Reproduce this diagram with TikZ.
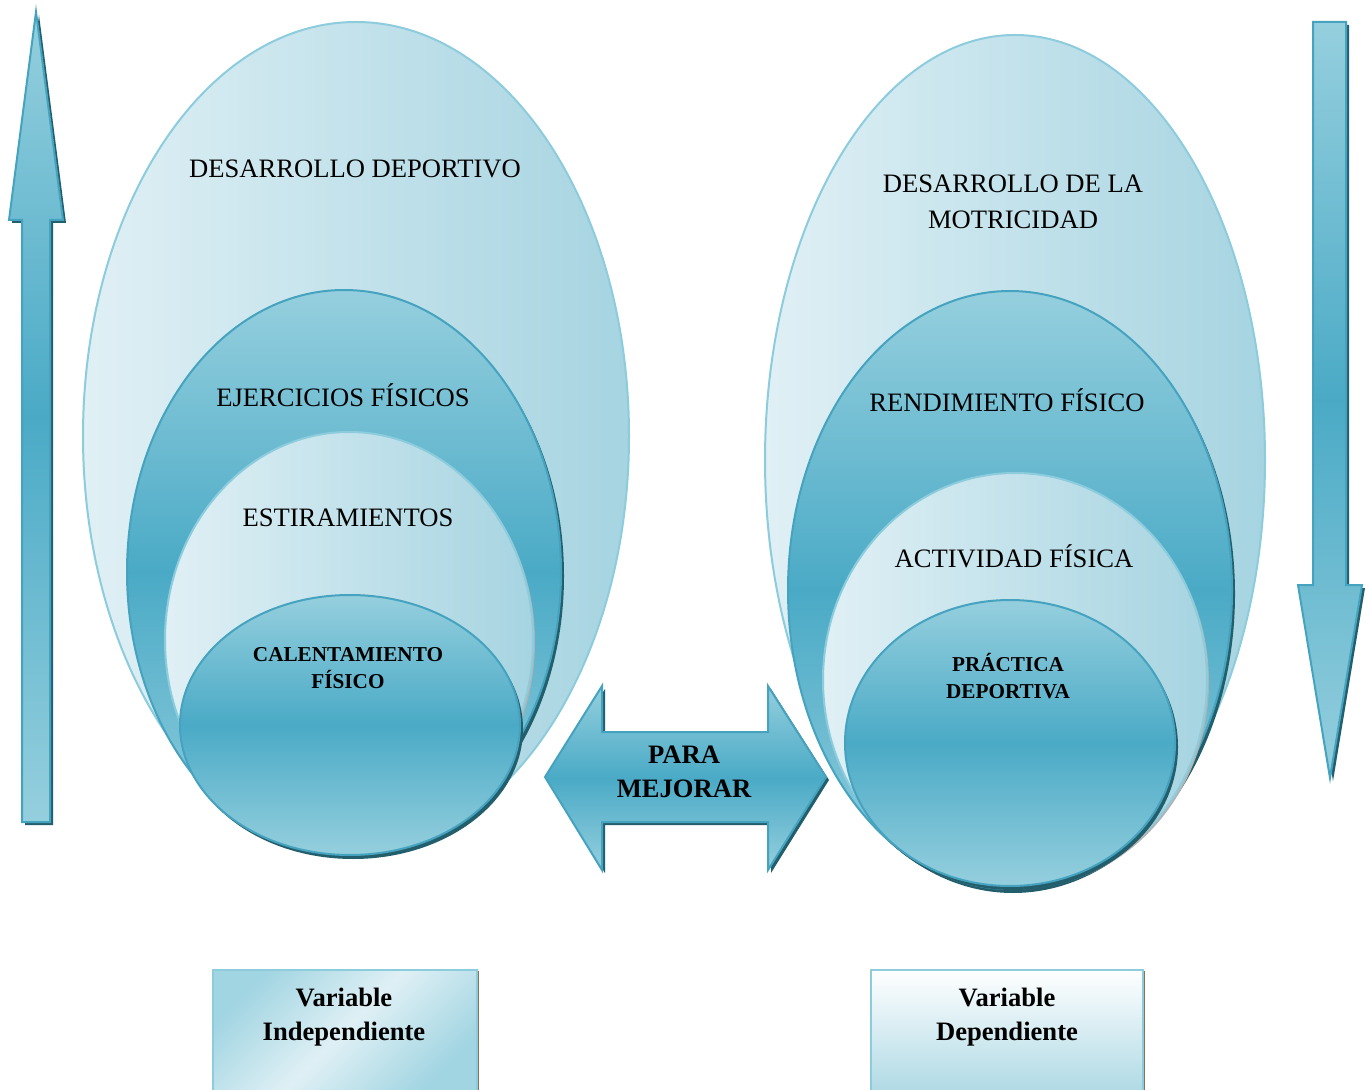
\documentclass[tikz,border=0pt]{standalone}
\usepackage{fontspec}
\setmainfont{Liberation Serif}
\usetikzlibrary{shapes.geometric,shadows}
\definecolor{ltA}{HTML}{E0F0F5}
\definecolor{ltB}{HTML}{A6D4E1}
\definecolor{edgeL}{HTML}{8DCCDD}
\definecolor{dkA}{HTML}{95CFDE}
\definecolor{dkB}{HTML}{4AAAC6}
\definecolor{edgeD}{HTML}{45A3BF}
\definecolor{shd}{HTML}{235E6C}
\definecolor{boxA}{HTML}{DFF0F5}
\definecolor{boxB}{HTML}{A2D5E2}
\definecolor{boxC}{HTML}{B0DAE5}
\begin{document}
\begin{tikzpicture}[x=0.5pt,y=-0.5pt,
  lightell/.style={ellipse, inner sep=0pt, draw=edgeL, line width=1pt, left color=ltA, right color=ltB},
  midell/.style={ellipse, inner sep=0pt, draw=edgeD, line width=1pt, top color=dkA, bottom color=dkA, middle color=dkB,
     drop shadow={shadow xshift=1.5pt, shadow yshift=-2pt, fill=shd, opacity=1}},
  innerlight/.style={ellipse, inner sep=0pt, draw=edgeL, line width=1pt, left color=ltA, right color=ltB,
     drop shadow={shadow xshift=1pt, shadow yshift=-1pt, fill=gray!60, opacity=1}},
  lbl/.style={font=\fontsize{13.3}{18}\selectfont, align=center, inner sep=0pt},
  blbl/.style={font=\fontsize{13.3}{17.25}\selectfont\bfseries, align=center, inner sep=0pt},
  sblbl/.style={font=\fontsize{10.6}{13.75}\selectfont\bfseries, align=center, inner sep=0pt},
  arrowfill/.style={draw=edgeD, line width=1pt, top color=dkA, bottom color=dkA, middle color=dkB},
  shadowfill/.style={fill=shd, draw=none},
  varbox/.style={rectangle, inner sep=0pt, draw=edgeL, line width=1pt, minimum width=132pt, minimum height=60.5pt,
     drop shadow={shadow xshift=1pt, shadow yshift=-0.5pt, fill=brown!60!black, opacity=0.8}}
]
\useasboundingbox (0,0) rectangle (1370,1090);
\fill[white] (0,0) rectangle (1370,1090);

% ---------- left nested ellipses ----------
\node[lightell, minimum width=273pt, minimum height=414pt] (lo) at (356,436) {};
\node[midell, minimum width=217pt, minimum height=282pt] (lm) at (344,572) {};
\node[innerlight, minimum width=184pt, minimum height=208pt] (li) at (349,640) {};
\node[midell, minimum width=170pt, minimum height=130pt] (lc) at (350,725) {};

\node[lbl] (t1) at (355,169) {DESARROLLO DEPORTIVO};
\node[lbl] (t2) at (343,395) {EJERCICIOS FÍSICOS};
\node[lbl] (t3) at (348,518) {ESTIRAMIENTOS};
\node[sblbl] (t4) at (348,668) {CALENTAMIENTO\\FÍSICO};

% ---------- right nested ellipses ----------
\node[lightell, minimum width=250pt, minimum height=425pt] (ro) at (1015,460) {};
\node[midell, minimum width=222pt, minimum height=299pt] (rm) at (1010,590) {};
\node[innerlight, minimum width=192pt, minimum height=207pt] (ri) at (1015,680) {};
\node[midell, minimum width=165pt, minimum height=143pt] (rc) at (1010,743) {};

\node[lbl] (s1) at (1013,202) {DESARROLLO DE LA\\MOTRICIDAD};
\node[lbl] (s2) at (1007,400) {RENDIMIENTO FÍSICO};
\node[lbl] (s3) at (1014,556) {ACTIVIDAD FÍSICA};
\node[sblbl] (s4) at (1008,676) {PRÁCTICA\\DEPORTIVA};

% ---------- left up arrow ----------
\path[shadowfill] (39,15) -- (66,223) -- (53,223) -- (53,825) -- (25,825) -- (25,223) -- (12,223) -- cycle;
\path[arrowfill] (36,12) -- (63,220) -- (50,220) -- (50,822) -- (22,822) -- (22,220) -- (9,220) -- cycle;

% ---------- right down arrow ----------
\path[shadowfill] (1316,25) -- (1349,25) -- (1349,588) -- (1365,588) -- (1333,781) -- (1301,588) -- (1316,588) -- cycle;
\path[arrowfill] (1313,22) -- (1346,22) -- (1346,585) -- (1362,585) -- (1330,778) -- (1298,585) -- (1313,585) -- cycle;

% ---------- middle double arrow ----------
\path[shadowfill] (548,780) -- (605,689) -- (605,735) -- (771,735) -- (771,689) -- (829,780) -- (771,873) -- (771,825) -- (605,825) -- (605,873) -- cycle;
\path[arrowfill] (545,777) -- (602,686) -- (602,732) -- (768,732) -- (768,686) -- (826,777) -- (768,870) -- (768,822) -- (602,822) -- (602,870) -- cycle;
\node[blbl] (pm) at (684,772) {PARA\\MEJORAR};

% ---------- variable boxes ----------
\node[varbox, left color=boxB, right color=boxB, middle color=boxA, shading angle=45] (vi) at (345,1030) {};
\node[blbl] (vit) at (344,1017) {Variable\\Independiente};
\node[varbox, top color=white, bottom color=boxC, minimum width=136pt] (vd) at (1007,1030) {};
\node[blbl] (vdt) at (1007,1017) {Variable\\Dependiente};
\end{tikzpicture}
\end{document}
